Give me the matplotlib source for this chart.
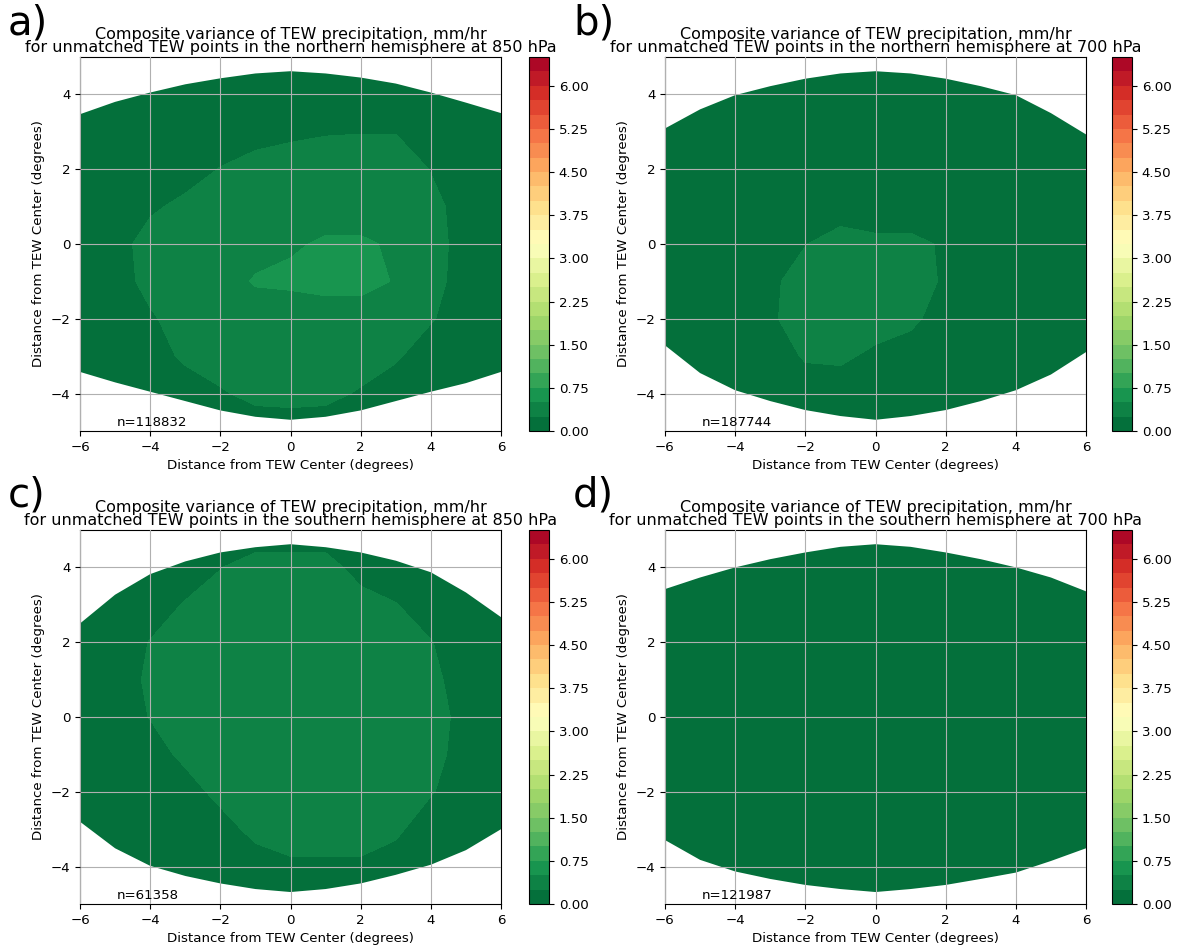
import numpy as np
import matplotlib
matplotlib.use("Agg")
import matplotlib.pyplot as plt
from matplotlib.patches import Polygon

# grid of the composite (degrees from TEW centre)
x_deg = [-6, -5, -4, -3, -2, -1, 0, 1, 2, 3, 4, 5, 6]
y_deg = [5, 4, 3, 2, 1, 0, -1, -2, -3, -4, -5]

# variance fields (mm/hr), rows follow y_deg, columns follow x_deg
var_nh_850 = [
    [0.10, 0.10, 0.10, 0.10, 0.10, 0.10, 0.10, 0.10, 0.10, 0.10, 0.10, 0.10, 0.10],
    [0.10, 0.10, 0.10, 0.10, 0.10, 0.10, 0.10, 0.10, 0.10, 0.10, 0.10, 0.10, 0.10],
    [0.10, 0.10, 0.10, 0.10, 0.10, 0.12, 0.19, 0.23, 0.24, 0.24, 0.15, 0.10, 0.10],
    [0.10, 0.10, 0.10, 0.14, 0.26, 0.38, 0.40, 0.40, 0.40, 0.40, 0.24, 0.12, 0.10],
    [0.10, 0.10, 0.21, 0.31, 0.38, 0.40, 0.40, 0.40, 0.40, 0.40, 0.32, 0.15, 0.10],
    [0.10, 0.15, 0.35, 0.38, 0.40, 0.42, 0.47, 0.53, 0.53, 0.47, 0.35, 0.15, 0.10],
    [0.10, 0.15, 0.32, 0.38, 0.40, 0.52, 0.55, 0.60, 0.60, 0.48, 0.33, 0.15, 0.10],
    [0.10, 0.10, 0.22, 0.35, 0.38, 0.38, 0.34, 0.34, 0.34, 0.36, 0.27, 0.12, 0.10],
    [0.10, 0.10, 0.12, 0.30, 0.38, 0.40, 0.40, 0.40, 0.38, 0.28, 0.12, 0.10, 0.10],
    [0.10, 0.10, 0.10, 0.10, 0.22, 0.32, 0.34, 0.32, 0.22, 0.12, 0.10, 0.10, 0.10],
    [0.10, 0.10, 0.10, 0.10, 0.10, 0.10, 0.10, 0.10, 0.10, 0.10, 0.10, 0.10, 0.10],
]
var_nh_700 = [
    [0.10, 0.10, 0.10, 0.10, 0.10, 0.10, 0.10, 0.10, 0.10, 0.10, 0.10, 0.10, 0.10],
    [0.10, 0.10, 0.10, 0.10, 0.10, 0.10, 0.10, 0.10, 0.10, 0.10, 0.10, 0.10, 0.10],
    [0.10, 0.10, 0.10, 0.10, 0.10, 0.10, 0.10, 0.10, 0.10, 0.10, 0.10, 0.10, 0.10],
    [0.10, 0.10, 0.10, 0.10, 0.10, 0.10, 0.10, 0.10, 0.10, 0.10, 0.10, 0.10, 0.10],
    [0.10, 0.10, 0.10, 0.10, 0.10, 0.10, 0.10, 0.10, 0.10, 0.10, 0.10, 0.10, 0.10],
    [0.10, 0.10, 0.10, 0.12, 0.24, 0.38, 0.31, 0.31, 0.22, 0.10, 0.10, 0.10, 0.10],
    [0.10, 0.10, 0.10, 0.19, 0.38, 0.38, 0.38, 0.38, 0.21, 0.10, 0.10, 0.10, 0.10],
    [0.10, 0.10, 0.10, 0.21, 0.38, 0.38, 0.38, 0.32, 0.10, 0.10, 0.10, 0.10, 0.10],
    [0.10, 0.10, 0.10, 0.10, 0.28, 0.30, 0.19, 0.10, 0.10, 0.10, 0.10, 0.10, 0.10],
    [0.10, 0.10, 0.10, 0.10, 0.10, 0.10, 0.10, 0.10, 0.10, 0.10, 0.10, 0.10, 0.10],
    [0.10, 0.10, 0.10, 0.10, 0.10, 0.10, 0.10, 0.10, 0.10, 0.10, 0.10, 0.10, 0.10],
]
var_sh_850 = [
    [0.10, 0.10, 0.10, 0.10, 0.10, 0.05, 0.05, 0.05, 0.10, 0.10, 0.10, 0.10, 0.10],
    [0.10, 0.10, 0.10, 0.10, 0.24, 0.38, 0.38, 0.38, 0.12, 0.10, 0.10, 0.10, 0.10],
    [0.10, 0.10, 0.12, 0.27, 0.38, 0.38, 0.38, 0.38, 0.38, 0.26, 0.12, 0.10, 0.10],
    [0.10, 0.10, 0.26, 0.38, 0.38, 0.38, 0.38, 0.38, 0.38, 0.38, 0.26, 0.10, 0.10],
    [0.10, 0.10, 0.30, 0.38, 0.38, 0.38, 0.38, 0.38, 0.38, 0.38, 0.33, 0.10, 0.10],
    [0.10, 0.10, 0.26, 0.38, 0.38, 0.38, 0.38, 0.38, 0.38, 0.38, 0.35, 0.17, 0.10],
    [0.10, 0.10, 0.12, 0.32, 0.38, 0.38, 0.38, 0.38, 0.38, 0.38, 0.34, 0.14, 0.10],
    [0.10, 0.10, 0.10, 0.12, 0.34, 0.38, 0.38, 0.38, 0.38, 0.38, 0.27, 0.10, 0.10],
    [0.10, 0.10, 0.10, 0.10, 0.12, 0.34, 0.38, 0.38, 0.38, 0.30, 0.10, 0.10, 0.10],
    [0.10, 0.10, 0.10, 0.10, 0.10, 0.10, 0.20, 0.20, 0.20, 0.13, 0.10, 0.10, 0.10],
    [0.10, 0.10, 0.10, 0.10, 0.10, 0.10, 0.10, 0.10, 0.10, 0.10, 0.10, 0.10, 0.10],
]
var_sh_700 = [
    [0.08, 0.08, 0.09, 0.09, 0.10, 0.10, 0.10, 0.10, 0.10, 0.09, 0.09, 0.08, 0.08],
    [0.08, 0.09, 0.10, 0.10, 0.11, 0.11, 0.11, 0.11, 0.11, 0.10, 0.10, 0.09, 0.08],
    [0.09, 0.10, 0.11, 0.12, 0.12, 0.13, 0.13, 0.13, 0.12, 0.12, 0.11, 0.10, 0.09],
    [0.09, 0.10, 0.12, 0.13, 0.14, 0.14, 0.14, 0.14, 0.14, 0.13, 0.12, 0.10, 0.09],
    [0.10, 0.11, 0.12, 0.14, 0.15, 0.15, 0.16, 0.15, 0.15, 0.14, 0.12, 0.11, 0.10],
    [0.10, 0.11, 0.13, 0.14, 0.15, 0.16, 0.16, 0.16, 0.15, 0.14, 0.13, 0.11, 0.10],
    [0.10, 0.11, 0.12, 0.14, 0.15, 0.15, 0.16, 0.15, 0.15, 0.14, 0.12, 0.11, 0.10],
    [0.09, 0.10, 0.12, 0.13, 0.14, 0.14, 0.14, 0.14, 0.14, 0.13, 0.12, 0.10, 0.09],
    [0.09, 0.10, 0.11, 0.12, 0.12, 0.13, 0.13, 0.13, 0.12, 0.12, 0.11, 0.10, 0.09],
    [0.08, 0.09, 0.10, 0.10, 0.11, 0.11, 0.11, 0.11, 0.11, 0.10, 0.10, 0.09, 0.08],
    [0.08, 0.08, 0.09, 0.09, 0.10, 0.10, 0.10, 0.10, 0.10, 0.09, 0.09, 0.08, 0.08],
]

# edge of the composite domain (y at each x_deg), top and bottom
top_nh_850 = [3.47, 3.80, 4.05, 4.27, 4.43, 4.56, 4.62, 4.56, 4.45, 4.29, 4.05, 3.78, 3.50]
bot_nh_850 = [-3.42, -3.70, -3.95, -4.20, -4.45, -4.62, -4.70, -4.62, -4.45, -4.20, -3.95, -3.72, -3.42]
top_nh_700 = [3.09, 3.60, 3.98, 4.22, 4.42, 4.56, 4.62, 4.56, 4.42, 4.22, 3.98, 3.50, 2.93]
bot_nh_700 = [-2.71, -3.45, -3.91, -4.20, -4.44, -4.60, -4.70, -4.60, -4.44, -4.20, -3.91, -3.49, -2.89]
top_sh_850 = [2.50, 3.27, 3.82, 4.16, 4.40, 4.54, 4.62, 4.54, 4.40, 4.18, 3.87, 3.33, 2.67]
bot_sh_850 = [-2.80, -3.51, -3.98, -4.25, -4.45, -4.60, -4.68, -4.60, -4.45, -4.22, -3.95, -3.56, -3.00]
top_sh_700 = [3.42, 3.73, 4.00, 4.22, 4.40, 4.55, 4.62, 4.55, 4.40, 4.22, 4.00, 3.73, 3.36]
bot_sh_700 = [-3.29, -3.82, -4.13, -4.33, -4.49, -4.60, -4.68, -4.60, -4.49, -4.33, -4.16, -3.85, -3.51]

panel_tags = ["a)", "b)", "c)", "d)"]
hemispheres = ["northern", "northern", "southern", "southern"]
levels_hpa = [850, 700, 850, 700]
n_points = [118832, 187744, 61358, 121987]
fields = [var_nh_850, var_nh_700, var_sh_850, var_sh_700]
tops = [top_nh_850, top_nh_700, top_sh_850, top_sh_700]
bots = [bot_nh_850, bot_nh_700, bot_sh_850, bot_sh_700]

clevs = np.arange(0, 6.75, 0.25)
cticks = np.arange(0, 6.01, 0.75)

W, H = 1178, 947
fig = plt.figure(figsize=(W / 100, H / 100), dpi=100)

# pixel boxes: (left, top) of each axes
ax_px = [(80, 57), (665, 57), (80, 530), (665, 530)]
cb_px = [529, 1112]
tag_px = [8, 573]
ax_w, ax_h, cb_w = 421, 374, 20

X, Y = np.meshgrid(x_deg, y_deg)

for i in range(4):
    lx, ty = ax_px[i]
    ax = fig.add_axes([lx / W, 1 - (ty + ax_h) / H, ax_w / W, ax_h / H])
    cax = fig.add_axes([cb_px[i % 2] / W, 1 - (ty + ax_h) / H, cb_w / W, ax_h / H])

    cs = ax.contourf(X, Y, np.array(fields[i]), levels=clevs, cmap="RdYlGn_r")
    edge = list(zip(x_deg, tops[i])) + list(zip(x_deg[::-1], bots[i][::-1]))
    clip = Polygon(edge, closed=True, transform=ax.transData,
                   facecolor="none", edgecolor="none")
    ax.add_patch(clip)
    cs.set_clip_path(clip)

    ax.set_xlim(-6, 6)
    ax.set_ylim(-5, 5)
    ax.set_xticks([-6, -4, -2, 0, 2, 4, 6])
    ax.set_yticks([-4, -2, 0, 2, 4])
    ax.tick_params(labelsize=9.6)
    ax.grid(True)
    ax.set_axisbelow(False)
    ax.set_xlabel("Distance from TEW Center (degrees)", fontsize=9.6)
    ax.set_ylabel("Distance from TEW Center (degrees)", fontsize=9.6)
    ax.set_title("Composite variance of TEW precipitation, mm/hr\n"
                 f"for unmatched TEW points in the {hemispheres[i]} hemisphere at {levels_hpa[i]} hPa",
                 fontsize=11.5, linespacing=0.85, pad=3.5)
    ax.text(-4.95, -4.95, f"n={n_points[i]}", fontsize=9.6, va="bottom")

    cb = fig.colorbar(cs, cax=cax, ticks=cticks, format="%.2f")
    cb.ax.tick_params(labelsize=9.6)

    fig.text(tag_px[i % 2] / W, 1 - (ty - 54) / H, panel_tags[i], fontsize=29, va="top", ha="left")

fig.savefig("out.png", dpi=100)
